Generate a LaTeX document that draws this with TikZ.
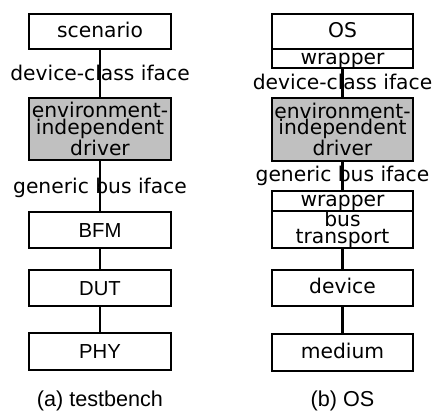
\documentclass[tikz,border=0pt]{standalone}
\usepackage{fontspec}
\setmainfont{DejaVu Sans}
\newfontfamily\arialf{Liberation Sans}
\definecolor{drvgray}{RGB}{192,192,192}
\begin{document}
\begin{tikzpicture}[x=0.75pt,y=-0.75pt,
  box/.style={draw, line width=1.9pt, inner sep=0pt, minimum width=106.5pt,
    font=\fontsize{15.2pt}{12.2pt}\selectfont},
  onel/.style={text height=8.3pt, text depth=0pt},
  capl/.style={font=\arialf\fontsize{15.2pt}{12pt}\selectfont, text height=10.9pt, text depth=0pt},
  multi/.style={align=center, fill=drvgray},
  lbl/.style={inner sep=0pt, font=\fontsize{15.2pt}{12pt}\selectfont, text height=8.3pt, text depth=0pt},
  captxt/.style={inner sep=0pt, font=\arialf\fontsize{16.2pt}{18pt}\selectfont, text height=8.4pt, text depth=0pt},
  conn/.style={line width=1.9pt}]
\useasboundingbox (0,0) rectangle (432,412);
% left column
\node[box,onel,minimum height=26.25pt] (scen) at (100,31.5) {scenario};
\node[box,multi,minimum height=46.5pt] (drvA) at (100,129) {environment-\\independent\\driver};
\node[box,capl,minimum height=27pt] (bfm) at (100,230) {BFM};
\node[box,capl,minimum height=27pt] (dut) at (100,288) {DUT};
\node[box,capl,minimum height=27.75pt] (phy) at (100,351.5) {PHY};
\draw[conn] (scen.south) -- (drvA.north);
\draw[conn] (drvA.south) -- (bfm.north);
\draw[conn] (bfm.south) -- (dut.north);
\draw[conn] (dut.south) -- (phy.north);
\node[lbl] (lA1) at (100,74.5) {device-class iface};
\node[lbl] (lA2) at (100,188) {generic bus iface};
\node[captxt] (capA) at (100,400.5) {(a) testbench};
% right column
\node[box,onel,minimum width=105.75pt,minimum height=26.25pt] (os) at (342.5,31.5) {OS};
\node[box,onel,minimum width=105.75pt,minimum height=14.25pt] (wrA) at (342.5,58.5) {wrapper};
\node[box,multi,minimum width=105.75pt,minimum height=47.25pt] (drvB) at (342.5,129.5) {environment-\\independent\\driver};
\node[box,onel,minimum width=105.75pt,minimum height=15pt] (wrB) at (342.5,201) {wrapper};
\node[box,align=center,minimum width=105.75pt,minimum height=27.75pt] (bt) at (342.5,229.5) {bus\\transport};
\node[box,onel,minimum width=105.75pt,minimum height=27pt] (dev) at (342.5,288) {device};
\node[box,onel,minimum width=105.75pt,minimum height=27.75pt] (med) at (342.5,352.5) {medium};
\draw[conn] (wrA.south) -- (drvB.north);
\draw[conn] (drvB.south) -- (wrB.north);
\draw[conn] (bt.south) -- (dev.north);
\draw[conn] (dev.south) -- (med.north);
\node[lbl] (lB1) at (342.5,84) {device-class iface};
\node[lbl] (lB2) at (342.5,175.5) {generic bus iface};
\node[captxt] (capB) at (342.5,400.5) {(b) OS};
\end{tikzpicture}
\end{document}
